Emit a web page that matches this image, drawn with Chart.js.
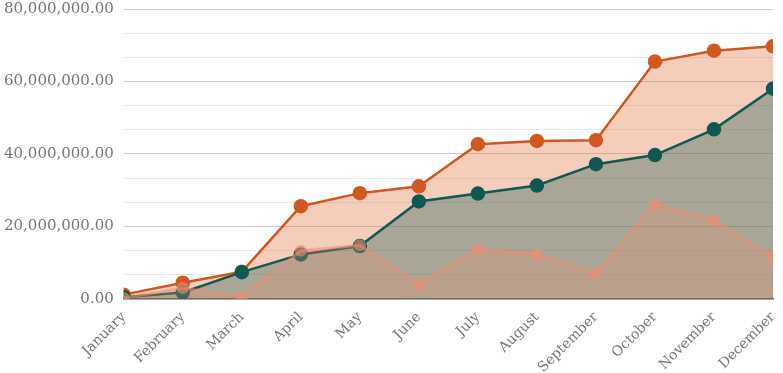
<!DOCTYPE html>
<html>
<head>
<meta charset="utf-8">
<script src="https://cdn.jsdelivr.net/npm/chart.js@4"></script>
<style>
  html, body { margin: 0; padding: 0; background: #fff; }
  #wrap { width: 783px; height: 373px; }
</style>
</head>
<body>
<div id="wrap"><canvas id="c"></canvas></div>
<script>
const months = ["January","February","March","April","May","June","July","August","September","October","November","December"];
const orangeSeries = [1200000, 4500000, 7500000, 25600000, 29200000, 31100000, 42700000, 43600000, 43800000, 65500000, 68500000, 69700000];
const tealSeries = [500000, 1800000, 7400000, 12300000, 14600000, 26900000, 29100000, 31300000, 37200000, 39700000, 46800000, 58000000];
const salmonSeries = [300000, 3000000, 500000, 13300000, 14800000, 4000000, 13600000, 12300000, 7000000, 26000000, 21500000, 11500000];
const yMax = 80000000;
const yStep = 20000000 / 3;

const isMajor = v => Math.abs(v / 20000000 - Math.round(v / 20000000)) < 1e-6;

new Chart(document.getElementById('c'), {
  type: 'line',
  data: {
    labels: months,
    datasets: [
      {
        label: 'Series C',
        data: salmonSeries,
        order: 1,
        borderColor: 'rgba(240,140,110,0.55)',
        backgroundColor: 'rgba(240,140,110,0.25)',
        pointBackgroundColor: 'rgba(240,140,110,0.6)',
        pointBorderColor: 'rgba(240,140,110,0)',
        borderWidth: 3,
        pointRadius: 6,
        fill: 'origin',
        tension: 0,
        clip: 0
      },
      {
        label: 'Series B',
        data: tealSeries,
        order: 2,
        borderColor: '#0e5a52',
        backgroundColor: 'rgba(20,88,80,0.33)',
        pointBackgroundColor: '#0e5a52',
        pointBorderColor: '#0e5a52',
        borderWidth: 2.5,
        pointRadius: 6,
        fill: 'origin',
        tension: 0,
        clip: 0
      },
      {
        label: 'Series A',
        data: orangeSeries,
        order: 3,
        borderColor: '#d2581f',
        backgroundColor: 'rgba(222,100,45,0.32)',
        pointBackgroundColor: '#d2581f',
        pointBorderColor: '#d2581f',
        borderWidth: 2.5,
        pointRadius: 6,
        fill: 'origin',
        tension: 0,
        clip: 0
      }
    ]
  },
  options: {
    responsive: true,
    maintainAspectRatio: false,
    animation: false,
    layout: { padding: { left: -6, right: 10, top: 0, bottom: 0 } },
    plugins: { legend: { display: false }, tooltip: { enabled: false } },
    scales: {
      x: {
        offset: false,
        grid: { display: false },
        border: { display: true, color: '#555', width: 1.5 },
        afterFit: s => { s.paddingRight = 0; s.height = s.height - 5; },
        ticks: {
          minRotation: 45, maxRotation: 45, autoSkip: false,
          color: '#777',
          font: { family: 'DejaVu Serif', size: 14 },
          padding: 2
        }
      },
      y: {
        min: 0,
        max: yMax,
        border: { display: false },
        afterFit: s => { s.paddingTop = 6; s.paddingBottom = 0; },
        grid: {
          drawTicks: false,
          color: ctx => (ctx.tick && isMajor(ctx.tick.value)) ? 'rgba(0,0,0,0.2)' : 'rgba(0,0,0,0.09)',
          lineWidth: 1
        },
        ticks: {
          stepSize: yStep,
          autoSkip: false,
          padding: 10,
          color: '#777',
          font: { family: 'DejaVu Serif', size: 15 },
          callback: v => isMajor(v) ? Number(Math.round(v)).toLocaleString('en-US', { minimumFractionDigits: 2, maximumFractionDigits: 2 }) : ''
        }
      }
    }
  }
});
</script>
</body>
</html>
